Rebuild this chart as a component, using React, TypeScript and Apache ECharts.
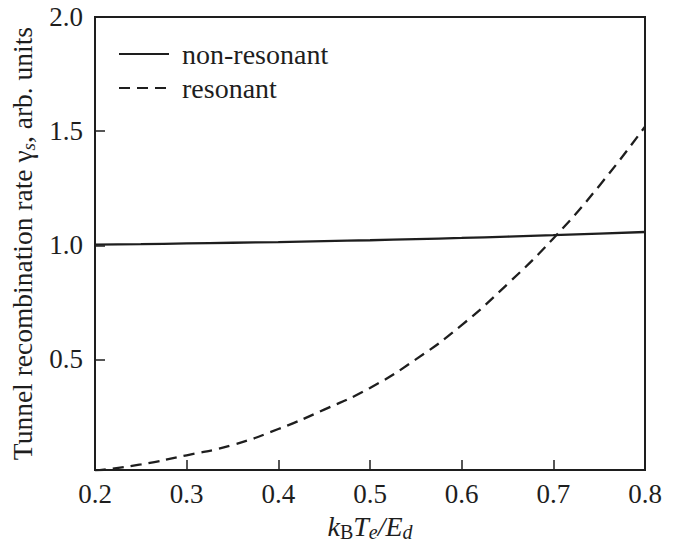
import React, { useEffect, useRef } from "react";
import * as echarts from "echarts";

const xValues = [0.2, 0.25, 0.3, 0.35, 0.4, 0.45, 0.5, 0.55, 0.6, 0.65, 0.7, 0.75, 0.8];
const nonResonant = [1.003, 1.005, 1.008, 1.011, 1.014, 1.018, 1.022, 1.027, 1.032, 1.038, 1.044, 1.051, 1.058];
const resonant = [0.012, 0.04, 0.08, 0.125, 0.195, 0.28, 0.375, 0.5, 0.65, 0.83, 1.03, 1.26, 1.52];
const yTicks = [0.5, 1.0, 1.5, 2.0];
const seriesNames = ["non-resonant", "resonant"];

const FONT = "Liberation Serif";
const INK = "#1e1e1e";

export default function App() {
  const ref = useRef<HTMLDivElement>(null);
  useEffect(() => {
    if (!ref.current) return;
    const chart = echarts.init(ref.current, undefined, { renderer: "svg" });
    const pairs = (ys: number[]) => xValues.map((x, i) => [x, ys[i]]);
    chart.setOption({
      animation: false,
      backgroundColor: "#ffffff",
      textStyle: { fontFamily: FONT, color: INK },
      grid: { left: 95, right: 31, top: 17, bottom: 74, show: true, borderColor: INK, borderWidth: 2 },
      legend: {
        orient: "vertical",
        left: 113,
        top: 35,
        itemWidth: 50,
        itemHeight: 14,
        itemGap: 6,
        data: seriesNames,
        itemStyle: { opacity: 0 },
        textStyle: { fontFamily: FONT, fontSize: 28, color: INK, padding: [0, 0, 0, 8] },
      },
      xAxis: {
        type: "value",
        min: 0.2,
        max: 0.8,
        interval: 0.1,
        axisLine: { lineStyle: { color: INK, width: 2 } },
        axisTick: { inside: true, length: 10, lineStyle: { color: INK, width: 1.5 } },
        axisLabel: {
          margin: 10,
          fontFamily: FONT,
          fontSize: 27,
          color: INK,
          formatter: (v: number) => v.toFixed(1),
        },
        splitLine: { show: false },
        name: "{i|k}{sub|B}{i|T}{isub|e}{i|/E}{isub|d}",
        nameLocation: "middle",
        nameGap: 32,
        nameTextStyle: {
          fontFamily: FONT,
          fontSize: 28,
          color: INK,
          rich: {
            i: { fontFamily: FONT, fontSize: 28, fontStyle: "italic", color: INK, lineHeight: 32, verticalAlign: "middle" },
            sub: { fontFamily: FONT, fontSize: 20, color: INK, lineHeight: 8, verticalAlign: "bottom" },
            isub: { fontFamily: FONT, fontSize: 20, fontStyle: "italic", color: INK, lineHeight: 8, verticalAlign: "bottom" },
          },
        },
      },
      yAxis: {
        type: "value",
        min: 0.015,
        max: 2.0,
        axisLine: { lineStyle: { color: INK, width: 2 } },
        axisTick: { inside: true, length: 10, customValues: yTicks, lineStyle: { color: INK, width: 1.5 } },
        axisLabel: {
          margin: 12,
          fontFamily: FONT,
          fontSize: 27,
          color: INK,
          customValues: yTicks,
          formatter: (v: number) => v.toFixed(1),
        },
        splitLine: { show: false },
        name: "{n|Tunnel recombination rate γ}{isub|s}{n|, arb. units}",
        nameLocation: "middle",
        nameGap: 45,
        nameTextStyle: {
          fontFamily: FONT,
          fontSize: 27.5,
          color: INK,
          rich: {
            n: { fontFamily: FONT, fontSize: 27.5, color: INK, lineHeight: 32, verticalAlign: "middle" },
            isub: { fontFamily: FONT, fontSize: 19, fontStyle: "italic", color: INK, lineHeight: 8, verticalAlign: "bottom" },
          },
        },
      },
      series: [
        {
          name: seriesNames[0],
          type: "line",
          data: pairs(nonResonant),
          symbol: "none",
          smooth: true,
          lineStyle: { color: INK, width: 2.3, type: "solid" },
          itemStyle: { color: INK },
        },
        {
          name: seriesNames[1],
          type: "line",
          data: pairs(resonant),
          symbol: "none",
          smooth: true,
          lineStyle: { color: INK, width: 2.3, type: [11, 7] },
          itemStyle: { color: INK },
        },
      ],
    });
    return () => chart.dispose();
  }, []);
  return <div ref={ref} style={{ width: 676, height: 547, position: "absolute", left: 0, top: 0 }} />;
}
